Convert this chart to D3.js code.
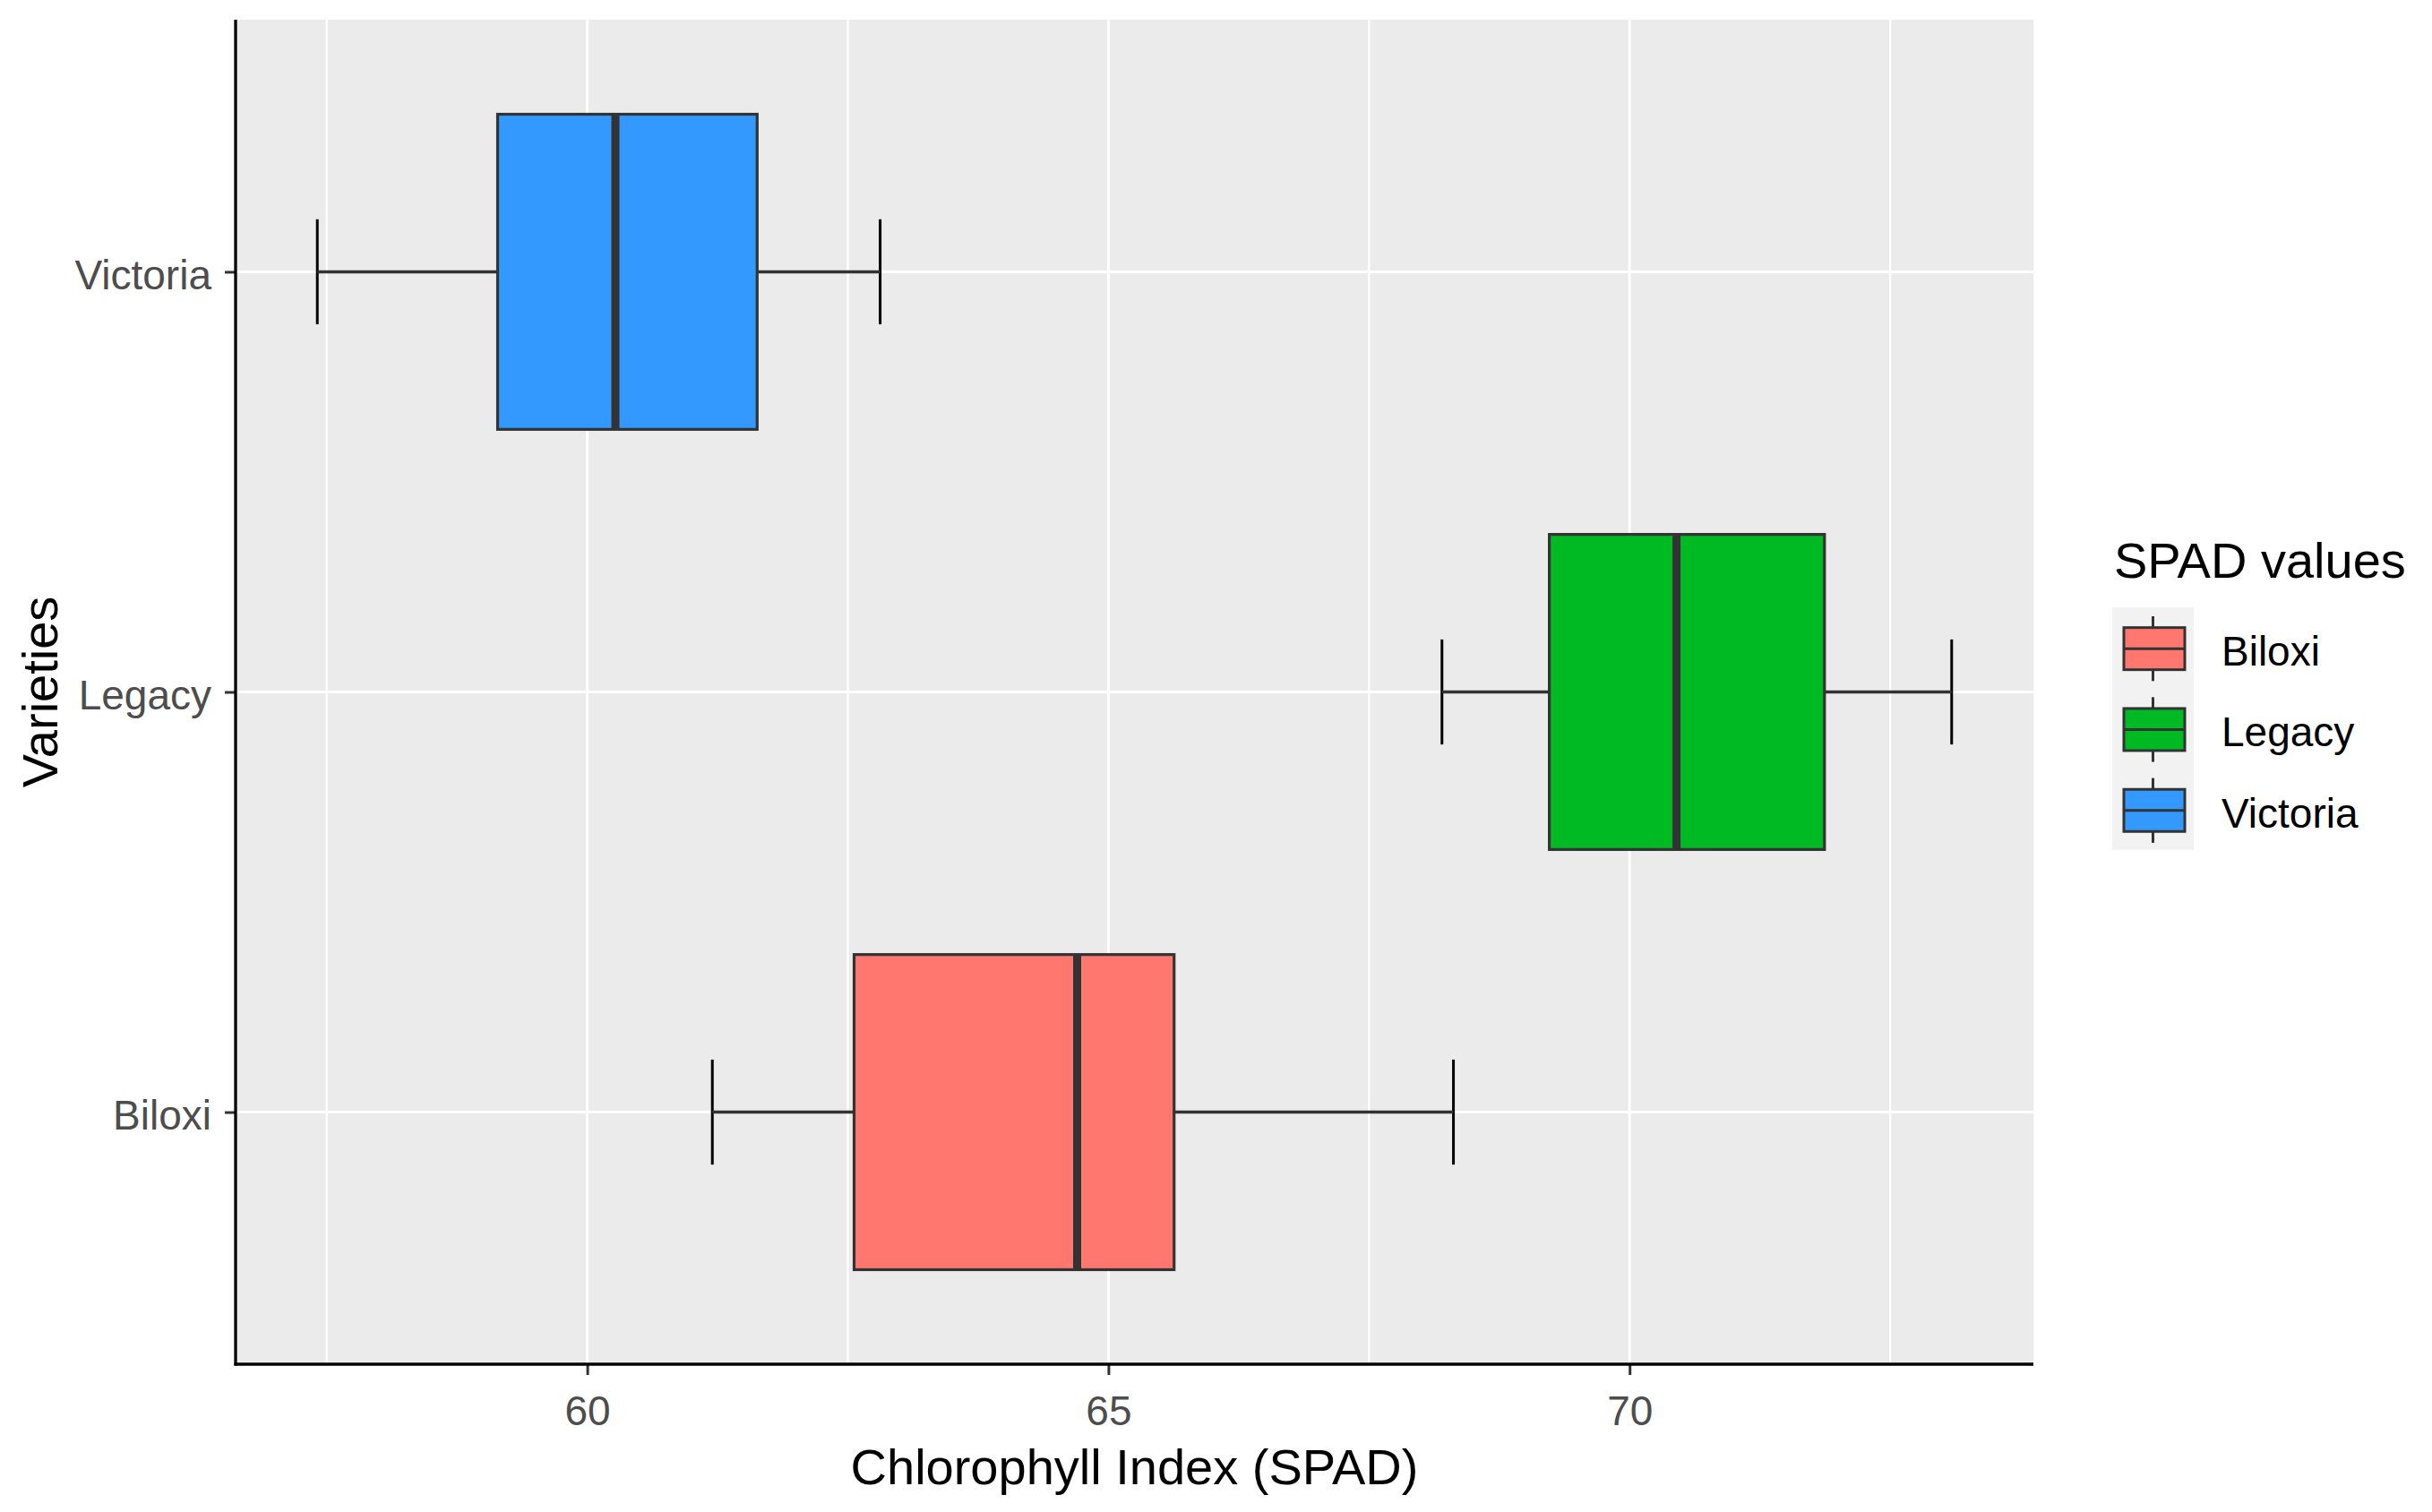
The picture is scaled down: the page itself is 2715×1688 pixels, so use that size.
<!DOCTYPE html>
<html><head><meta charset="utf-8">
<script src="https://cdn.jsdelivr.net/npm/d3@7"></script>
<style>body{margin:0;background:#fff} svg{display:block}</style>
</head><body>
<svg id="chart" width="2715" height="1688"></svg>
<script>
// ---- data ----
const varieties = ["Biloxi", "Legacy", "Victoria"];
const whiskerLow = [61.20, 68.20, 57.41];
const q1 = [62.56, 69.23, 59.14];
const medians = [64.70, 70.45, 60.27];
const q3 = [65.63, 71.87, 61.63];
const whiskerHigh = [68.31, 73.09, 62.81];
const fillColors = ["#FF776F", "#00BA24", "#3399FF"];
const xTickValues = [60, 65, 70];
const xMinorValues = [57.5, 62.5, 67.5, 72.5];
const xTitle = "Chlorophyll Index (SPAD)";
const yTitle = "Varieties";
const legendTitle = "SPAD values";

// ---- layout ----
const FONT = "'Liberation Sans', Arial, sans-serif";
const panel = {left: 263, right: 2270, top: 22, bottom: 1523};
const svg = d3.select("#chart");

const lo = d3.min(whiskerLow), hi = d3.max(whiskerHigh);
const pad = (hi - lo) * 0.05;
const x = d3.scaleLinear().domain([lo - pad, hi + pad]).range([panel.left, panel.right]);
const y = d3.scalePoint().domain(varieties.slice().reverse()).range([panel.top, panel.bottom]).padding(0.6);
const step = y.step();
const color = d3.scaleOrdinal().domain(varieties).range(fillColors);

const rows = varieties.map((v, i) => ({
  name: v, lo: whiskerLow[i], q1: q1[i], med: medians[i], q3: q3[i], hi: whiskerHigh[i]
}));

// panel background
svg.append("rect").attr("x", panel.left).attr("y", panel.top)
  .attr("width", panel.right - panel.left).attr("height", panel.bottom - panel.top)
  .attr("fill", "#EBEBEB");

// grid
const grid = svg.append("g");
grid.selectAll(".minor").data(xMinorValues).join("line")
  .attr("x1", d => x(d)).attr("x2", d => x(d))
  .attr("y1", panel.top).attr("y2", panel.bottom)
  .attr("stroke", "#fff").attr("stroke-width", 2.2);
grid.selectAll(".majx").data(xTickValues).join("line")
  .attr("x1", d => x(d)).attr("x2", d => x(d))
  .attr("y1", panel.top).attr("y2", panel.bottom)
  .attr("stroke", "#fff").attr("stroke-width", 3);
grid.selectAll(".majy").data(varieties).join("line")
  .attr("x1", panel.left).attr("x2", panel.right)
  .attr("y1", d => y(d)).attr("y2", d => y(d))
  .attr("stroke", "#fff").attr("stroke-width", 3);

// boxes
const capHalf = step * 0.125;
const boxHalf = step * 0.375;
const g = svg.append("g");
rows.forEach(r => {
  const cy = y(r.name);
  // errorbar caps (black)
  [r.lo, r.hi].forEach(v => {
    g.append("line").attr("x1", x(v)).attr("x2", x(v))
      .attr("y1", cy - capHalf).attr("y2", cy + capHalf)
      .attr("stroke", "#000").attr("stroke-width", 3);
  });
  // whiskers
  g.append("line").attr("x1", x(r.lo)).attr("x2", x(r.q1)).attr("y1", cy).attr("y2", cy)
    .attr("stroke", "#333").attr("stroke-width", 3.5);
  g.append("line").attr("x1", x(r.q3)).attr("x2", x(r.hi)).attr("y1", cy).attr("y2", cy)
    .attr("stroke", "#333").attr("stroke-width", 3.5);
  // box
  g.append("rect").attr("x", x(r.q1)).attr("y", cy - boxHalf)
    .attr("width", x(r.q3) - x(r.q1)).attr("height", 2 * boxHalf)
    .attr("fill", color(r.name)).attr("stroke", "#333").attr("stroke-width", 3.2);
  // median
  g.append("line").attr("x1", x(r.med)).attr("x2", x(r.med))
    .attr("y1", cy - boxHalf).attr("y2", cy + boxHalf)
    .attr("stroke", "#333").attr("stroke-width", 9);
});

// axes
const xAxis = svg.append("g").attr("transform", `translate(0,${panel.bottom})`)
  .call(d3.axisBottom(x).tickValues(xTickValues).tickSize(12).tickSizeOuter(0).tickPadding(23).tickFormat(d3.format("d")));
const yAxis = svg.append("g").attr("transform", `translate(${panel.left},0)`)
  .call(d3.axisLeft(y).tickSize(12).tickSizeOuter(0).tickPadding(15));
[xAxis, yAxis].forEach(a => {
  a.select(".domain").remove();
  a.selectAll(".tick line").attr("stroke", "#333").attr("stroke-width", 3);
  a.selectAll(".tick text").attr("fill", "#4D4D4D").attr("font-size", 46).attr("font-family", FONT);
});
yAxis.selectAll(".tick text").attr("dy", "0.42em");

// axis lines
svg.append("line").attr("x1", panel.left).attr("x2", panel.left)
  .attr("y1", panel.top).attr("y2", panel.bottom + 1.5)
  .attr("stroke", "#000").attr("stroke-width", 3.3);
svg.append("line").attr("x1", panel.left - 1.5).attr("x2", panel.right)
  .attr("y1", panel.bottom).attr("y2", panel.bottom)
  .attr("stroke", "#000").attr("stroke-width", 3.3);

// axis titles
svg.append("text").attr("x", (panel.left + panel.right) / 2).attr("y", 1657)
  .attr("text-anchor", "middle").attr("font-family", FONT).attr("font-size", 56)
  .attr("fill", "#000").text(xTitle);
svg.append("text").attr("transform", `translate(64,${(panel.top + panel.bottom) / 2}) rotate(-90)`)
  .attr("text-anchor", "middle").attr("font-family", FONT).attr("font-size", 56)
  .attr("fill", "#000").text(yTitle);

// legend
const leg = svg.append("g");
const keyX = 2358, keyY = 678, keySize = 90.3;
leg.append("text").attr("x", 2360).attr("y", 645).attr("font-family", FONT)
  .attr("font-size", 56).attr("fill", "#000").text(legendTitle);
leg.append("rect").attr("x", keyX).attr("y", keyY).attr("width", 91).attr("height", keySize * varieties.length)
  .attr("fill", "#F2F2F2");
varieties.forEach((v, i) => {
  const top = keyY + i * keySize;
  const cx = keyX + 45.5;
  const cy = top + keySize / 2 + 1;
  leg.append("line").attr("x1", cx).attr("x2", cx).attr("y1", top + 10).attr("y2", top + keySize - 8)
    .attr("stroke", "#333").attr("stroke-width", 3);
  leg.append("rect").attr("x", keyX + 13).attr("y", cy - 23.5).attr("width", 68).attr("height", 47)
    .attr("fill", color(v)).attr("stroke", "#333").attr("stroke-width", 3);
  leg.append("line").attr("x1", keyX + 13).attr("x2", keyX + 81).attr("y1", cy).attr("y2", cy)
    .attr("stroke", "#333").attr("stroke-width", 3);
  leg.append("text").attr("x", 2480).attr("y", cy + 19).attr("font-family", FONT)
    .attr("font-size", 46).attr("fill", "#000").text(v);
});
</script>
</body></html>
